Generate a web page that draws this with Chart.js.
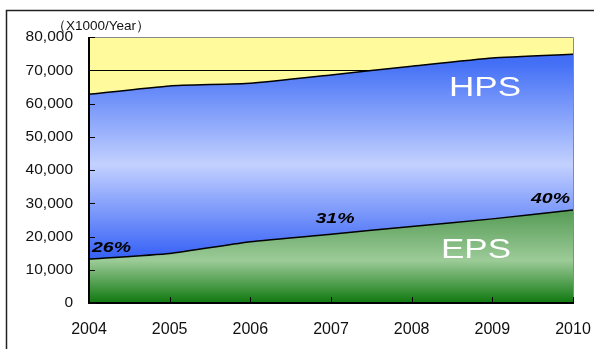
<!DOCTYPE html>
<html>
<head>
<meta charset="utf-8">
<script src="https://cdn.jsdelivr.net/npm/chart.js@4.4.1/dist/chart.umd.min.js"></script>
<style>
    html, body { margin: 0; padding: 0; background: #fff; }
    #wrap { position: relative; width: 594px; height: 349px; }
</style>
</head>
<body>
<div id="wrap"><canvas id="spsChart"></canvas></div>
<script>
// Yearly production (x1000 per year)
const years = ['2004', '2005', '2006', '2007', '2008', '2009', '2010'];
const epsValues = [13200, 14900, 18400, 20700, 23000, 25300, 28000];
const totalValues = [62800, 65300, 66100, 68600, 71200, 73700, 74800];
const yTickValues = [0, 10000, 20000, 30000, 40000, 50000, 60000, 70000, 80000];
const shareLabels = ['26%', '31%', '40%'];
const shareYears = ['2004', '2007', '2010'];
const refLine = 70000;

const fontFamily = "'Liberation Sans', Arial, sans-serif";

const verticalGradient = (stops) => (context) => {
    const { ctx, chartArea } = context.chart;
    if (!chartArea) return null;
    const g = ctx.createLinearGradient(0, chartArea.top, 0, chartArea.bottom);
    stops.forEach(([o, c]) => g.addColorStop(o, c));
    return g;
};

// Stretched text helper (wide glyphs)
function drawWideText(ctx, text, x, y, font, color, sx, align) {
    ctx.save();
    ctx.font = font;
    ctx.fillStyle = color;
    ctx.textBaseline = 'alphabetic';
    ctx.textAlign = 'left';
    const w = ctx.measureText(text).width * sx;
    let left = x;
    if (align === 'center') left = x - w / 2;
    if (align === 'right') left = x - w;
    ctx.translate(left, y);
    ctx.scale(sx, 1);
    ctx.fillText(text, 0, 0);
    ctx.restore();
}

const decorations = {
    id: 'decorations',
    beforeDraw(chart) {
        // pale band behind the areas
        const { ctx, chartArea: a } = chart;
        ctx.save();
        ctx.fillStyle = '#fffb9c';
        ctx.fillRect(a.left, a.top, a.right - a.left, a.bottom - a.top);
        ctx.restore();
    },
    afterDatasetsDraw(chart) {
        const { ctx, chartArea: a, scales } = chart;
        const x = scales.x, y = scales.y;
        ctx.save();

        // top / right frame of plot
        ctx.strokeStyle = '#8a8a8a';
        ctx.lineWidth = 1;
        ctx.beginPath();
        ctx.moveTo(a.left, a.top + 0.5);
        ctx.lineTo(a.right + 0.5, a.top + 0.5);
        ctx.lineTo(a.right + 0.5, a.bottom);
        ctx.stroke();

        // axes
        ctx.strokeStyle = '#000';
        ctx.lineWidth = 2;
        ctx.beginPath();
        ctx.moveTo(a.left, a.top);
        ctx.lineTo(a.left, a.bottom);
        ctx.lineTo(a.right + 1, a.bottom);
        ctx.stroke();

        // inner tick marks
        ctx.lineWidth = 1;
        ctx.beginPath();
        yTickValues.forEach(v => {
            const py = Math.round(y.getPixelForValue(v)) + 0.5;
            ctx.moveTo(a.left, py);
            ctx.lineTo(a.left + 6, py);
        });
        years.forEach((yr, i) => {
            const px = Math.round(x.getPixelForValue(i)) + 0.5;
            ctx.moveTo(px, a.bottom);
            ctx.lineTo(px, a.bottom - 6);
        });
        ctx.stroke();

        // share labels over the EPS line
        const shareFont = `italic bold 15px ${fontFamily}`;
        shareYears.forEach((yr, k) => {
            const i = years.indexOf(yr);
            const px = x.getPixelForValue(i);
            const py = y.getPixelForValue(epsValues[i]);
            let align = 'center', dx = 4, dy = -11;
            if (i === 0) { align = 'left'; dx = 3; dy = -7; }
            if (i === years.length - 1) { align = 'right'; dx = -3; dy = -7; }
            drawWideText(ctx, shareLabels[k], px + dx, py + dy, shareFont, '#000', 1.3, align);
        });

        // series names
        drawWideText(ctx, 'HPS', 485, 96, `28px ${fontFamily}`, '#fff', 1.25, 'center');
        drawWideText(ctx, 'EPS', 476, 258, `28px ${fontFamily}`, '#fff', 1.25, 'center');

        ctx.restore();
    },
    afterDraw(chart) {
        const { ctx } = chart;
        ctx.save();
        // outer frame
        ctx.strokeStyle = '#222';
        ctx.lineWidth = 1.5;
        ctx.beginPath();
        ctx.moveTo(594, 10.5);
        ctx.lineTo(6.5, 10.5);
        ctx.lineTo(6.5, 349);
        ctx.stroke();

        // unit caption
        ctx.fillStyle = '#111';
        ctx.font = `13.5px ${fontFamily}`;
        ctx.textBaseline = 'alphabetic';
        ctx.fillText('（X1000/Year）', 52, 30);
        ctx.restore();
    }
};

const ctx = document.getElementById('spsChart').getContext('2d');

const spsChart = new Chart(ctx, {
    type: 'line',
    data: {
        labels: years,
        datasets: [
            {
                label: 'EPS',
                data: epsValues,
                fill: 'origin',
                borderColor: '#000',
                borderWidth: 1.5,
                pointRadius: 0,
                tension: 0.15,
                backgroundColor: verticalGradient([
                    [0.0, '#3f8a3f'],
                    [0.62, '#4a934a'],
                    [0.84, '#9ccb98'],
                    [1.0, '#0f780f']
                ])
            },
            {
                label: 'HPS',
                data: totalValues,
                fill: '-1',
                borderColor: '#000',
                borderWidth: 1.5,
                pointRadius: 0,
                tension: 0.15,
                backgroundColor: verticalGradient([
                    [0.0, '#3a62f8'],
                    [0.1, '#4470f6'],
                    [0.48, '#c3d1ff'],
                    [0.82, '#3a64f6'],
                    [1.0, '#3a64f6']
                ])
            }
        ]
    },
    options: {
        responsive: true,
        maintainAspectRatio: false,
        animation: false,
        layout: { padding: { top: 37, right: 21, left: 0, bottom: 0 } },
        plugins: {
            legend: { display: false },
            tooltip: { enabled: false }
        },
        scales: {
            x: {
                type: 'category',
                offset: false,
                grid: { display: false, drawTicks: false },
                border: { display: false },
                ticks: {
                    color: '#111',
                    font: { family: fontFamily, size: 16 },
                    padding: 17,
                    maxRotation: 0,
                    autoSkip: false
                },
                afterFit: (scale) => {
                    scale.height = 46;
                    scale.paddingLeft = 0;
                    scale.paddingRight = 0;
                }
            },
            y: {
                min: 0,
                max: 80000,
                afterBuildTicks: (scale) => {
                    scale.ticks = yTickValues.map(v => ({ value: v }));
                },
                grid: {
                    drawTicks: false,
                    lineWidth: 1,
                    color: (c) => (c.tick && c.tick.value === refLine ? '#000' : 'rgba(0,0,0,0)')
                },
                border: { display: false },
                ticks: {
                    color: '#111',
                    font: { family: fontFamily, size: 15.5 },
                    padding: 16,
                    callback: (v) => Number(v).toLocaleString('en-US')
                },
                afterFit: (scale) => { scale.width = 89; }
            }
        }
    },
    plugins: [decorations]
});
</script>
</body>
</html>
